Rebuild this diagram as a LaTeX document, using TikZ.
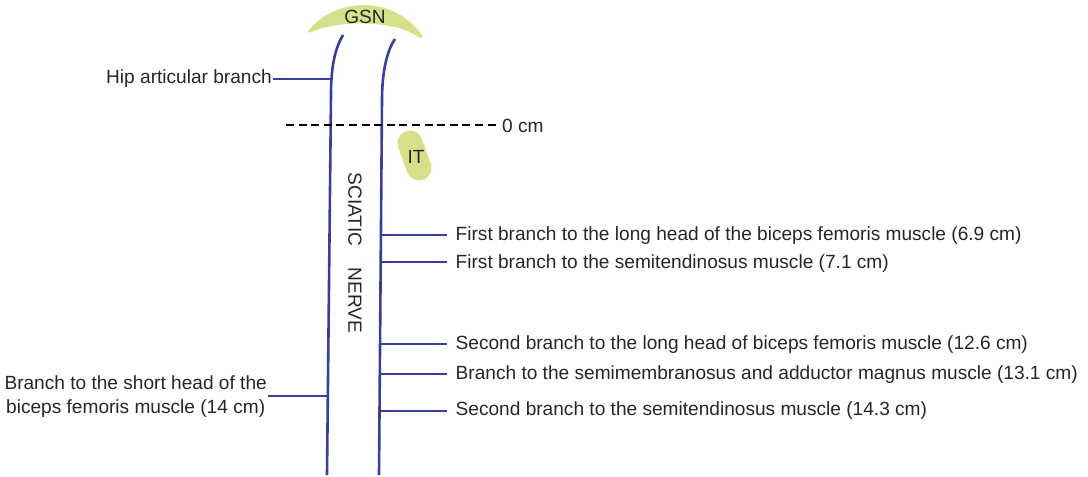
\documentclass[tikz,border=0pt]{standalone}
\usepackage{fontspec}
\setmainfont{Liberation Sans}
\begin{document}
\begin{tikzpicture}[x=1pt,y=-1pt,
  nerve/.style={draw=nerveblue, line width=2.6pt},
  twig/.style={draw=nerveblue, line width=2.4pt},
  lbl/.style={font=\fontsize{19.1}{24}\selectfont, text=black!85, inner sep=0pt},
  rlbl/.style={lbl, anchor=west, inner xsep=8.5pt},
  landmark/.style={fill=landgreen, draw=none}]
\definecolor{nerveblue}{RGB}{56,62,156}
\definecolor{landgreen}{RGB}{214,224,138}
\useasboundingbox (0,0) rectangle (1088,477);

% greater sciatic notch (crescent)
\path[landmark] (308,31) .. controls (335,-3) and (395,-6) .. (423,37)
  -- (420,38) .. controls (395,19) and (335,20) .. (309,33) -- cycle;
\node[lbl] (gsn) at (365,17) {GSN};

% ischial tuberosity
\draw[landgreen, line width=25pt, line cap=round] (410,143) -- (419,168);
\node[lbl] (it) at (416,157) {IT};

% the two borders of the sciatic nerve
\coordinate (ltop) at (343,35);
\coordinate (lbend) at (331,95);
\coordinate (lbot) at (327,475);
\coordinate (rtop) at (395,39);
\coordinate (rbend) at (382,100);
\coordinate (rbot) at (379,475);
\draw[nerve] (ltop) .. controls (334,50) and (331,70) .. (lbend) -- (lbot);
\draw[nerve] (rtop) .. controls (386,52) and (382,75) .. (rbend) -- (rbot);

\node[lbl, rotate=-90] (sn) at (355,253) {SCIATIC\hspace{21pt}NERVE};

% reference level
\node[lbl, anchor=west] (zero) at (502,126) {0 cm};
\coordinate (dstart) at (286,125);
\draw[black, line width=2.4pt, dash pattern=on 8pt off 4.6pt] (dstart) -- (496,125);

% hip articular branch
\coordinate (hipj) at (332,79);
\node[lbl, anchor=east, inner xsep=1pt] (hip) at (273,79) {Hip articular branch};
\draw[twig] (hipj) -- (hipj -| hip.east);

% branches from the medial border
\coordinate (b1) at (381,235);
\coordinate (b2) at (381,262);
\coordinate (b3) at (380,344);
\coordinate (b4) at (380,374);
\coordinate (b5) at (380,411);
\node[rlbl] (t1) at (447,236) {First branch to the long head of the biceps femoris muscle (6.9 cm)};
\node[rlbl] (t2) at (447,264) {First branch to the semitendinosus muscle (7.1 cm)};
\node[rlbl] (t3) at (447,345) {Second branch to the long head of biceps femoris muscle (12.6 cm)};
\node[rlbl] (t4) at (447,375) {Branch to the semimembranosus and adductor magnus muscle (13.1 cm)};
\node[rlbl] (t5) at (447,411) {Second branch to the semitendinosus muscle (14.3 cm)};
\foreach \i in {1,...,5} \draw[twig] (b\i) -- (b\i -| t\i.west);

% short head branch from the lateral border
\coordinate (sh) at (328,396);
\node[lbl, align=center, anchor=east, inner xsep=1pt] (tsh) at (268,397)
  {Branch to the short head of the\\biceps femoris muscle (14 cm)};
\draw[twig] (sh) -- (sh -| tsh.east);
\end{tikzpicture}
\end{document}
